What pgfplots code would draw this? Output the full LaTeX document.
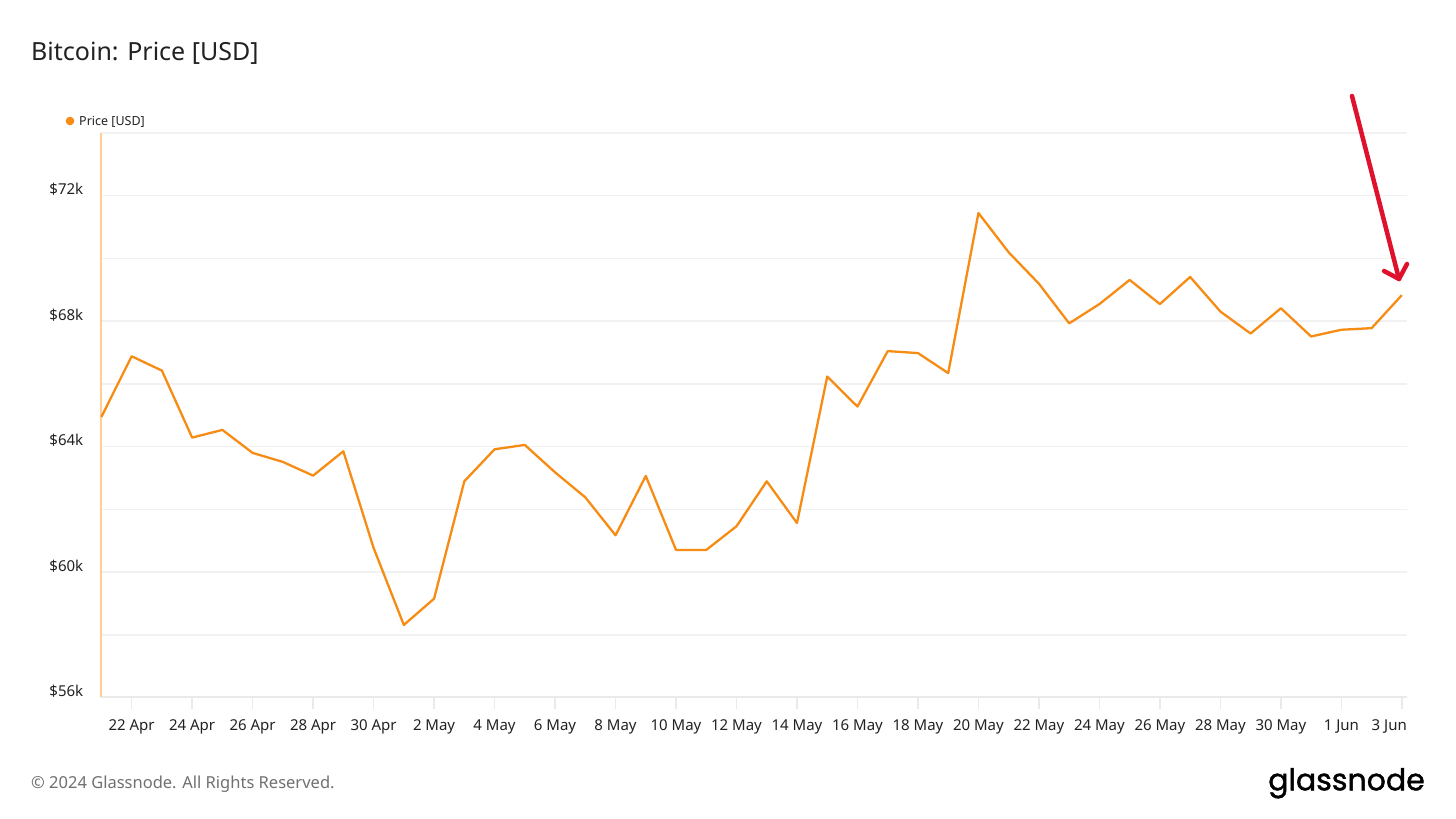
\documentclass[border=0pt]{standalone}
\usepackage{fontspec}
\setmainfont{Noto Sans}
\newfontfamily\logofont{Poppins}[FakeBold=1.4]
\usepackage{pgfplots}
\pgfplotsset{compat=1.18}
\definecolor{btc}{RGB}{247,140,20}
\definecolor{gridc}{RGB}{241,241,241}
\definecolor{basec}{RGB}{234,234,234}
\definecolor{axisl}{RGB}{253,206,150}
\definecolor{arrowred}{RGB}{222,18,44}
\definecolor{txt}{RGB}{34,34,34}
\definecolor{foot}{RGB}{112,112,112}
\begin{document}
\begin{tikzpicture}[x=1pt,y=1pt]
\path[use as bounding box, fill=white] (0,0) rectangle (1456,819);
\begin{axis}[
  at={(101.4pt,121.5pt)}, anchor=south west,
  scale only axis, width=1305.6pt, height=564.5pt,
  xmin=0, xmax=43.17, ymin=56000, ymax=74000,
  clip=false,
  scaled y ticks=false,
  axis line style={draw=none},
  xtick={1,3,...,43},
  xticklabels={22 Apr,24 Apr,26 Apr,28 Apr,30 Apr,2 May,4 May,6 May,8 May,10 May,12 May,14 May,16 May,18 May,20 May,22 May,24 May,26 May,28 May,30 May,1 Jun,\makebox[10pt][r]{3 Jun}},
  ytick={56000,60000,64000,68000,72000},
  yticklabels={\$56k,\$60k,\$64k,\$68k,\$72k},
  minor ytick={58000,62000,66000,70000,74000},
  ymajorgrids, yminorgrids,
  major grid style={gridc, line width=1.5pt},
  minor grid style={gridc, line width=1.5pt},
  xtick pos=bottom, ytick pos=left,
  tick align=outside,
  major tick length=12pt, minor tick length=0pt,
  xtick style={basec, line width=1.3pt},
  ytick style={draw=none},
  tick label style={font=\fontsize{15}{18}\selectfont, text=txt},
  xticklabel style={inner sep=0pt, yshift=-10pt},
  yticklabel style={anchor=east, inner sep=0pt, xshift=-6pt, yshift=6pt},
]
\draw[basec, line width=2pt] (axis cs:0,56000) -- (axis cs:43.17,56000);
\draw[axisl, line width=2pt] (axis cs:0,56000) -- (axis cs:0,74000);
\addplot[btc, line width=2.3pt, line join=round] coordinates {
(0,64947) (1,66880) (2,66424) (3,64287) (4,64533) (5,63799) (6,63512) (7,63075)
(8,63850) (9,60769) (10,58313) (11,59151) (12,62893) (13,63914) (14,64054) (15,63180)
(16,62383) (17,61171) (18,63065) (19,60705) (20,60705) (21,61460) (22,62893) (23,61563)
(24,66233) (25,65276) (26,67045) (27,66982) (28,66344) (29,71448) (30,70195) (31,69193)
(32,67930) (33,68545) (34,69315) (35,68545) (36,69410) (37,68306) (38,67605) (39,68412)
(40,67512) (41,67726) (42,67777) (43,68830)
};
\end{axis}
% title, legend, footer
\node[anchor=base west, inner sep=0pt, text=txt, font=\fontsize{25}{30}\selectfont] at (31,758.3) {Bitcoin: Price [USD]};
\fill[btc] (70,698) circle (4.3);
\node[anchor=base west, inner sep=0pt, text=txt, font=\fontsize{12.5}{15}\selectfont] at (79,693.5) {Price [USD]};
\node[anchor=base west, inner sep=0pt, text=foot, font=\fontsize{16.5}{19}\selectfont] at (31,30.7) {© 2024 Glassnode. All Rights Reserved.};
\node[anchor=base east, inner sep=0pt, text=black, font=\logofont\fontsize{30}{34}\selectfont] at (1425,28.7) {glassnode};
% annotation arrow
\draw[arrowred, line width=4.5pt, line cap=round, line join=round] (1352,723) -- (1399,540);
\draw[arrowred, line width=4.5pt, line cap=round, line join=round] (1384,548) -- (1399,540) -- (1407,555);
\end{tikzpicture}
\end{document}
